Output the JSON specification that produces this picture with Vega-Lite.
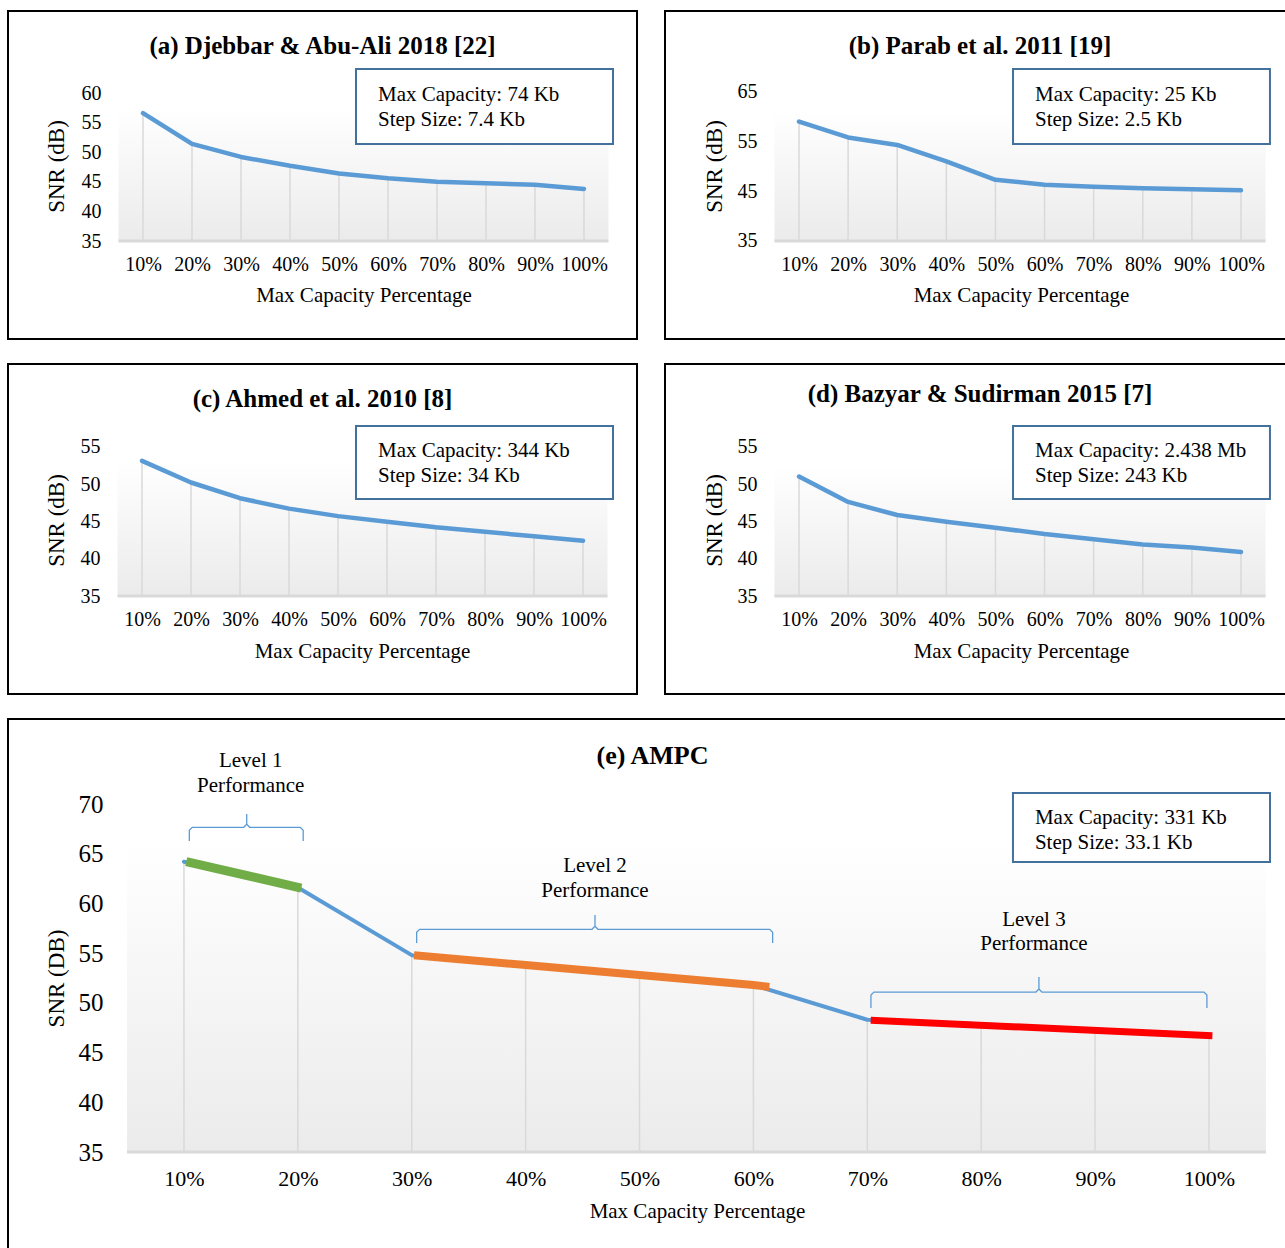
{
  "$schema": "https://vega.github.io/schema/vega-lite/v6.json",
  "background": "white",
  "padding": {"left": 7, "top": 10, "right": 0, "bottom": 0},
  "config": {
    "font": "Liberation Serif",
    "view": {"stroke": "black", "strokeWidth": 2},
    "axis": {"labelFont": "Liberation Serif", "titleFont": "Liberation Serif", "labelColor": "black", "titleColor": "black", "titleFontWeight": "normal", "domain": false, "ticks": false, "tickSize": 0, "grid": false, "labelOverlap": false, "labelFlush": false},
    "title": {"font": "Liberation Serif", "fontWeight": "bold", "color": "black"},
    "text": {"font": "Liberation Serif", "color": "black"}
  },
  "datasets": {
    "djebbar": [{"pct": 10, "snr": 56.6}, {"pct": 20, "snr": 51.4}, {"pct": 30, "snr": 49.2}, {"pct": 40, "snr": 47.7}, {"pct": 50, "snr": 46.4}, {"pct": 60, "snr": 45.6}, {"pct": 70, "snr": 45.0}, {"pct": 80, "snr": 44.75}, {"pct": 90, "snr": 44.5}, {"pct": 100, "snr": 43.8}],
    "parab": [{"pct": 10, "snr": 59.0}, {"pct": 20, "snr": 55.8}, {"pct": 30, "snr": 54.3}, {"pct": 40, "snr": 51.0}, {"pct": 50, "snr": 47.3}, {"pct": 60, "snr": 46.3}, {"pct": 70, "snr": 45.9}, {"pct": 80, "snr": 45.6}, {"pct": 90, "snr": 45.4}, {"pct": 100, "snr": 45.2}],
    "ahmed": [{"pct": 10, "snr": 53.1}, {"pct": 20, "snr": 50.2}, {"pct": 30, "snr": 48.1}, {"pct": 40, "snr": 46.7}, {"pct": 50, "snr": 45.7}, {"pct": 60, "snr": 44.95}, {"pct": 70, "snr": 44.2}, {"pct": 80, "snr": 43.6}, {"pct": 90, "snr": 43.0}, {"pct": 100, "snr": 42.4}],
    "bazyar": [{"pct": 10, "snr": 51.0}, {"pct": 20, "snr": 47.6}, {"pct": 30, "snr": 45.85}, {"pct": 40, "snr": 44.95}, {"pct": 50, "snr": 44.15}, {"pct": 60, "snr": 43.3}, {"pct": 70, "snr": 42.6}, {"pct": 80, "snr": 41.9}, {"pct": 90, "snr": 41.5}, {"pct": 100, "snr": 40.9}],
    "ampc": [{"pct": 10, "snr": 64.2}, {"pct": 20, "snr": 61.6}, {"pct": 30, "snr": 54.8}, {"pct": 40, "snr": 53.8}, {"pct": 50, "snr": 52.8}, {"pct": 60, "snr": 51.8}, {"pct": 70, "snr": 48.3}, {"pct": 80, "snr": 47.85}, {"pct": 90, "snr": 47.3}, {"pct": 100, "snr": 46.8}],
    "levels": [
      {"level": "Level 1", "pct": 10.2, "snr": 64.2}, {"level": "Level 1", "pct": 20.3, "snr": 61.55},
      {"level": "Level 2", "pct": 30.2, "snr": 54.8}, {"level": "Level 2", "pct": 40, "snr": 53.8}, {"level": "Level 2", "pct": 50, "snr": 52.8}, {"level": "Level 2", "pct": 60, "snr": 51.8}, {"level": "Level 2", "pct": 61.4, "snr": 51.6},
      {"level": "Level 3", "pct": 70.3, "snr": 48.25}, {"level": "Level 3", "pct": 100.3, "snr": 46.7}
    ],
    "braces": [
      {"level": "Level 1", "i": 1, "pct": 10.47, "snr": 66.28}, {"level": "Level 1", "i": 2, "pct": 10.47, "snr": 67.36}, {"level": "Level 1", "i": 3, "pct": 10.73, "snr": 67.66}, {"level": "Level 1", "i": 4, "pct": 15.25, "snr": 67.66}, {"level": "Level 1", "i": 5, "pct": 15.51, "snr": 67.96}, {"level": "Level 1", "i": 6, "pct": 15.51, "snr": 69.0}, {"level": "Level 1", "i": 7, "pct": 15.51, "snr": 67.96}, {"level": "Level 1", "i": 8, "pct": 15.77, "snr": 67.66}, {"level": "Level 1", "i": 9, "pct": 20.21, "snr": 67.66}, {"level": "Level 1", "i": 10, "pct": 20.47, "snr": 67.36}, {"level": "Level 1", "i": 11, "pct": 20.47, "snr": 66.28},
      {"level": "Level 2", "i": 1, "pct": 30.43, "snr": 56.02}, {"level": "Level 2", "i": 2, "pct": 30.43, "snr": 57.1}, {"level": "Level 2", "i": 3, "pct": 30.69, "snr": 57.4}, {"level": "Level 2", "i": 4, "pct": 45.83, "snr": 57.4}, {"level": "Level 2", "i": 5, "pct": 46.09, "snr": 57.7}, {"level": "Level 2", "i": 6, "pct": 46.09, "snr": 58.84}, {"level": "Level 2", "i": 7, "pct": 46.09, "snr": 57.7}, {"level": "Level 2", "i": 8, "pct": 46.35, "snr": 57.4}, {"level": "Level 2", "i": 9, "pct": 61.43, "snr": 57.4}, {"level": "Level 2", "i": 10, "pct": 61.69, "snr": 57.1}, {"level": "Level 2", "i": 11, "pct": 61.69, "snr": 56.02},
      {"level": "Level 3", "i": 1, "pct": 70.32, "snr": 49.48}, {"level": "Level 3", "i": 2, "pct": 70.32, "snr": 50.79}, {"level": "Level 3", "i": 3, "pct": 70.58, "snr": 51.09}, {"level": "Level 3", "i": 4, "pct": 84.81, "snr": 51.09}, {"level": "Level 3", "i": 5, "pct": 85.07, "snr": 51.39}, {"level": "Level 3", "i": 6, "pct": 85.07, "snr": 52.6}, {"level": "Level 3", "i": 7, "pct": 85.07, "snr": 51.39}, {"level": "Level 3", "i": 8, "pct": 85.33, "snr": 51.09}, {"level": "Level 3", "i": 9, "pct": 99.56, "snr": 51.09}, {"level": "Level 3", "i": 10, "pct": 99.82, "snr": 50.79}, {"level": "Level 3", "i": 11, "pct": 99.82, "snr": 49.48}
    ],
    "levelLabels": [
      {"label": "Level 1\nPerformance", "pct": 15.86, "snr": 74.29},
      {"label": "Level 2\nPerformance", "pct": 46.09, "snr": 63.74},
      {"label": "Level 3\nPerformance", "pct": 84.63, "snr": 58.34}
    ]
  },
  "spacing": 23,
  "vconcat": [
    {
      "spacing": 26,
      "hconcat": [
        {
          "width": 629, "height": 328,
          "title": {"text": "(a) Djebbar & Abu-Ali 2018 [22]", "fontSize": 25, "anchor": "middle", "frame": "group", "offset": -68, "baseline": "alphabetic"},
          "layer": [
            {"data": {"values": [{}]}, "mark": {"type": "rect", "fill": {"gradient": "linear", "x1": 0, "y1": 0, "x2": 0, "y2": 1, "stops": [{"offset": 0, "color": "#ffffff"}, {"offset": 1, "color": "#ebebeb"}]}},
             "encoding": {"x": {"datum": 5, "type": "quantitative"}, "x2": {"datum": 105}, "y": {"datum": 35, "type": "quantitative"}, "y2": {"datum": 57.5}}},
            {"data": {"values": [{}]}, "mark": {"type": "rule", "color": "#d9d9d9", "strokeWidth": 3},
             "encoding": {"x": {"datum": 5, "type": "quantitative"}, "x2": {"datum": 105}, "y": {"datum": 35, "type": "quantitative"}}},
            {"data": {"name": "djebbar"}, "mark": {"type": "rule", "color": "#d9d9d9", "strokeWidth": 1.5},
             "encoding": {"x": {"field": "pct", "type": "quantitative"}, "y": {"field": "snr", "type": "quantitative"}, "y2": {"datum": 35}}},
            {"data": {"name": "djebbar"}, "mark": {"type": "line", "color": "#5B9BD5", "strokeWidth": 4.5, "strokeJoin": "round", "strokeCap": "round"},
             "encoding": {
               "x": {"field": "pct", "type": "quantitative", "scale": {"domain": [-17.55, 110.82], "nice": false, "zero": false},
                     "axis": {"title": "Max Capacity Percentage", "values": [10, 20, 30, 40, 50, 60, 70, 80, 90, 100], "labelExpr": "datum.value + '%'", "offset": -98, "labelPadding": 13, "labelFontSize": 20, "labelFont": "Liberation Serif", "titleFontSize": 21, "titleX": 355.5, "titleY": 60, "titleBaseline": "alphabetic", "titleAlign": "center"}},
               "y": {"field": "snr", "type": "quantitative", "scale": {"domain": [18.45, 73.85], "nice": false, "zero": false},
                     "axis": {"title": "SNR (dB)", "values": [35, 40, 45, 50, 55, 60], "offset": -99, "labelPadding": 6, "labelFontSize": 20, "labelFont": "Liberation Serif", "titleFontSize": 23, "titleX": -50.5, "titleY": 155, "titleAngle": 270, "titleAlign": "center", "titleBaseline": "middle"}}
             }},
            {"data": {"values": [{}]}, "mark": {"type": "rect", "fill": "white", "stroke": "#41719C", "strokeWidth": 2},
             "encoding": {"x": {"datum": 53.47, "type": "quantitative"}, "x2": {"datum": 105.92}, "y": {"datum": 64.05, "type": "quantitative"}, "y2": {"datum": 51.39}}},
            {"data": {"values": [{}]}, "mark": {"type": "text", "align": "left", "baseline": "middle", "fontSize": 21, "lineHeight": 25, "lineBreak": "\n"},
             "encoding": {"x": {"datum": 57.96, "type": "quantitative"}, "y": {"datum": 59.67, "type": "quantitative"}, "text": {"value": "Max Capacity: 74 Kb\nStep Size: 7.4 Kb"}}}
          ]
        },
        {
          "width": 630, "height": 328,
          "title": {"text": "(b) Parab et al. 2011 [19]", "fontSize": 25, "anchor": "middle", "frame": "group", "offset": -68, "baseline": "alphabetic"},
          "layer": [
            {"data": {"values": [{}]}, "mark": {"type": "rect", "fill": {"gradient": "linear", "x1": 0, "y1": 0, "x2": 0, "y2": 1, "stops": [{"offset": 0, "color": "#ffffff"}, {"offset": 1, "color": "#ebebeb"}]}},
             "encoding": {"x": {"datum": 5, "type": "quantitative"}, "x2": {"datum": 105}, "y": {"datum": 35, "type": "quantitative"}, "y2": {"datum": 61.3}}},
            {"data": {"values": [{}]}, "mark": {"type": "rule", "color": "#d9d9d9", "strokeWidth": 3},
             "encoding": {"x": {"datum": 5, "type": "quantitative"}, "x2": {"datum": 105}, "y": {"datum": 35, "type": "quantitative"}}},
            {"data": {"name": "parab"}, "mark": {"type": "rule", "color": "#d9d9d9", "strokeWidth": 1.5},
             "encoding": {"x": {"field": "pct", "type": "quantitative"}, "y": {"field": "snr", "type": "quantitative"}, "y2": {"datum": 35}}},
            {"data": {"name": "parab"}, "mark": {"type": "line", "color": "#5B9BD5", "strokeWidth": 4.5, "strokeJoin": "round", "strokeCap": "round"},
             "encoding": {
               "x": {"field": "pct", "type": "quantitative", "scale": {"domain": [-17.29, 111.0], "nice": false, "zero": false},
                     "axis": {"title": "Max Capacity Percentage", "values": [10, 20, 30, 40, 50, 60, 70, 80, 90, 100], "labelExpr": "datum.value + '%'", "offset": -98, "labelPadding": 13, "labelFontSize": 20, "labelFont": "Liberation Serif", "titleFontSize": 21, "titleX": 356, "titleY": 60, "titleBaseline": "alphabetic", "titleAlign": "center"}},
               "y": {"field": "snr", "type": "quantitative", "scale": {"domain": [15.31, 81.21], "nice": false, "zero": false},
                     "axis": {"title": "SNR (dB)", "values": [35, 45, 55, 65], "offset": -98, "labelPadding": 6, "labelFontSize": 20, "labelFont": "Liberation Serif", "titleFontSize": 23, "titleX": -49, "titleY": 155, "titleAngle": 270, "titleAlign": "center", "titleBaseline": "middle"}}
             }},
            {"data": {"values": [{}]}, "mark": {"type": "rect", "fill": "white", "stroke": "#41719C", "strokeWidth": 2},
             "encoding": {"x": {"datum": 53.58, "type": "quantitative"}, "x2": {"datum": 105.9}, "y": {"datum": 69.56, "type": "quantitative"}, "y2": {"datum": 54.49}}},
            {"data": {"values": [{}]}, "mark": {"type": "text", "align": "left", "baseline": "middle", "fontSize": 21, "lineHeight": 25, "lineBreak": "\n"},
             "encoding": {"x": {"datum": 58.06, "type": "quantitative"}, "y": {"datum": 64.33, "type": "quantitative"}, "text": {"value": "Max Capacity: 25 Kb\nStep Size: 2.5 Kb"}}}
          ]
        }
      ]
    },
    {
      "spacing": 26,
      "hconcat": [
        {
          "width": 629, "height": 330,
          "title": {"text": "(c) Ahmed et al. 2010 [8]", "fontSize": 25, "anchor": "middle", "frame": "group", "offset": -68, "baseline": "alphabetic"},
          "layer": [
            {"data": {"values": [{}]}, "mark": {"type": "rect", "fill": {"gradient": "linear", "x1": 0, "y1": 0, "x2": 0, "y2": 1, "stops": [{"offset": 0, "color": "#ffffff"}, {"offset": 1, "color": "#ebebeb"}]}},
             "encoding": {"x": {"datum": 5, "type": "quantitative"}, "x2": {"datum": 105}, "y": {"datum": 35, "type": "quantitative"}, "y2": {"datum": 53.2}}},
            {"data": {"values": [{}]}, "mark": {"type": "rule", "color": "#d9d9d9", "strokeWidth": 3},
             "encoding": {"x": {"datum": 5, "type": "quantitative"}, "x2": {"datum": 105}, "y": {"datum": 35, "type": "quantitative"}}},
            {"data": {"name": "ahmed"}, "mark": {"type": "rule", "color": "#d9d9d9", "strokeWidth": 1.5},
             "encoding": {"x": {"field": "pct", "type": "quantitative"}, "y": {"field": "snr", "type": "quantitative"}, "y2": {"datum": 35}}},
            {"data": {"name": "ahmed"}, "mark": {"type": "line", "color": "#5B9BD5", "strokeWidth": 4.5, "strokeJoin": "round", "strokeCap": "round"},
             "encoding": {
               "x": {"field": "pct", "type": "quantitative", "scale": {"domain": [-17.35, 111.02], "nice": false, "zero": false},
                     "axis": {"title": "Max Capacity Percentage", "values": [10, 20, 30, 40, 50, 60, 70, 80, 90, 100], "labelExpr": "datum.value + '%'", "offset": -98, "labelPadding": 13, "labelFontSize": 20, "labelFont": "Liberation Serif", "titleFontSize": 21, "titleX": 354, "titleY": 61, "titleBaseline": "alphabetic", "titleAlign": "center"}},
               "y": {"field": "snr", "type": "quantitative", "scale": {"domain": [21.88, 66.07], "nice": false, "zero": false},
                     "axis": {"title": "SNR (dB)", "values": [35, 40, 45, 50, 55], "offset": -98, "labelPadding": 6, "labelFontSize": 20, "labelFont": "Liberation Serif", "titleFontSize": 23, "titleX": -50, "titleY": 156, "titleAngle": 270, "titleAlign": "center", "titleBaseline": "middle"}}
             }},
            {"data": {"values": [{}]}, "mark": {"type": "rect", "fill": "white", "stroke": "#41719C", "strokeWidth": 2},
             "encoding": {"x": {"datum": 53.67, "type": "quantitative"}, "x2": {"datum": 106.12}, "y": {"datum": 57.77, "type": "quantitative"}, "y2": {"datum": 47.99}}},
            {"data": {"values": [{}]}, "mark": {"type": "text", "align": "left", "baseline": "middle", "fontSize": 21, "lineHeight": 25, "lineBreak": "\n"},
             "encoding": {"x": {"datum": 58.16, "type": "quantitative"}, "y": {"datum": 54.42, "type": "quantitative"}, "text": {"value": "Max Capacity: 344 Kb\nStep Size: 34 Kb"}}}
          ]
        },
        {
          "width": 630, "height": 330,
          "title": {"text": "(d) Bazyar & Sudirman 2015 [7]", "fontSize": 25, "anchor": "middle", "frame": "group", "offset": -63, "baseline": "alphabetic"},
          "layer": [
            {"data": {"values": [{}]}, "mark": {"type": "rect", "fill": {"gradient": "linear", "x1": 0, "y1": 0, "x2": 0, "y2": 1, "stops": [{"offset": 0, "color": "#ffffff"}, {"offset": 1, "color": "#ebebeb"}]}},
             "encoding": {"x": {"datum": 5, "type": "quantitative"}, "x2": {"datum": 105}, "y": {"datum": 35, "type": "quantitative"}, "y2": {"datum": 52.5}}},
            {"data": {"values": [{}]}, "mark": {"type": "rule", "color": "#d9d9d9", "strokeWidth": 3},
             "encoding": {"x": {"datum": 5, "type": "quantitative"}, "x2": {"datum": 105}, "y": {"datum": 35, "type": "quantitative"}}},
            {"data": {"name": "bazyar"}, "mark": {"type": "rule", "color": "#d9d9d9", "strokeWidth": 1.5},
             "encoding": {"x": {"field": "pct", "type": "quantitative"}, "y": {"field": "snr", "type": "quantitative"}, "y2": {"datum": 35}}},
            {"data": {"name": "bazyar"}, "mark": {"type": "line", "color": "#5B9BD5", "strokeWidth": 4.5, "strokeJoin": "round", "strokeCap": "round"},
             "encoding": {
               "x": {"field": "pct", "type": "quantitative", "scale": {"domain": [-17.29, 111.0], "nice": false, "zero": false},
                     "axis": {"title": "Max Capacity Percentage", "values": [10, 20, 30, 40, 50, 60, 70, 80, 90, 100], "labelExpr": "datum.value + '%'", "offset": -98, "labelPadding": 13, "labelFontSize": 20, "labelFont": "Liberation Serif", "titleFontSize": 21, "titleX": 356, "titleY": 61, "titleBaseline": "alphabetic", "titleAlign": "center"}},
               "y": {"field": "snr", "type": "quantitative", "scale": {"domain": [21.88, 66.07], "nice": false, "zero": false},
                     "axis": {"title": "SNR (dB)", "values": [35, 40, 45, 50, 55], "offset": -98, "labelPadding": 6, "labelFontSize": 20, "labelFont": "Liberation Serif", "titleFontSize": 23, "titleX": -49, "titleY": 156, "titleAngle": 270, "titleAlign": "center", "titleBaseline": "middle"}}
             }},
            {"data": {"values": [{}]}, "mark": {"type": "rect", "fill": "white", "stroke": "#41719C", "strokeWidth": 2},
             "encoding": {"x": {"datum": 53.58, "type": "quantitative"}, "x2": {"datum": 105.9}, "y": {"datum": 57.77, "type": "quantitative"}, "y2": {"datum": 47.99}}},
            {"data": {"values": [{}]}, "mark": {"type": "text", "align": "left", "baseline": "middle", "fontSize": 21, "lineHeight": 25, "lineBreak": "\n"},
             "encoding": {"x": {"datum": 58.06, "type": "quantitative"}, "y": {"datum": 54.42, "type": "quantitative"}, "text": {"value": "Max Capacity: 2.438 Mb\nStep Size: 243 Kb"}}}
          ]
        }
      ]
    },
    {
      "width": 1289, "height": 540,
      "title": {"text": "(e) AMPC", "fontSize": 26, "anchor": "middle", "frame": "group", "offset": -71, "baseline": "alphabetic"},
      "layer": [
        {"data": {"values": [{}]}, "mark": {"type": "rect", "fill": {"gradient": "linear", "x1": 0, "y1": 0, "x2": 0, "y2": 1, "stops": [{"offset": 0, "color": "#ffffff"}, {"offset": 1, "color": "#ebebeb"}]}},
         "encoding": {"x": {"datum": 5, "type": "quantitative"}, "x2": {"datum": 105}, "y": {"datum": 35, "type": "quantitative"}, "y2": {"datum": 66.3}}},
        {"data": {"values": [{}]}, "mark": {"type": "rule", "color": "#d9d9d9", "strokeWidth": 3},
         "encoding": {"x": {"datum": 5, "type": "quantitative"}, "x2": {"datum": 105}, "y": {"datum": 35, "type": "quantitative"}}},
        {"data": {"name": "ampc"}, "mark": {"type": "rule", "color": "#d9d9d9", "strokeWidth": 1.5},
         "encoding": {"x": {"field": "pct", "type": "quantitative"}, "y": {"field": "snr", "type": "quantitative"}, "y2": {"datum": 35}}},
        {"data": {"name": "ampc"}, "mark": {"type": "line", "color": "#5B9BD5", "strokeWidth": 4, "strokeJoin": "round", "strokeCap": "round"},
         "encoding": {
           "x": {"field": "pct", "type": "quantitative", "scale": {"domain": [-5.45, 107.73], "nice": false, "zero": false},
                 "axis": {"title": "Max Capacity Percentage", "values": [10, 20, 30, 40, 50, 60, 70, 80, 90, 100], "labelExpr": "datum.value + '%'", "offset": -107, "labelPadding": 16, "labelFontSize": 22, "labelFont": "Liberation Serif", "titleFontSize": 21, "titleX": 689, "titleY": 65, "titleBaseline": "alphabetic", "titleAlign": "center"}},
           "y": {"field": "snr", "type": "quantitative", "scale": {"domain": [24.24, 78.55], "nice": false, "zero": false},
                 "axis": {"title": "SNR (DB)", "values": [35, 40, 45, 50, 55, 60, 65, 70], "offset": -101, "labelPadding": 6, "labelFontSize": 25, "labelFont": "Liberation Serif", "titleFontSize": 23, "titleX": -53, "titleY": 259, "titleAngle": 270, "titleAlign": "center", "titleBaseline": "middle"}}
         }},
        {"data": {"name": "levels"}, "mark": {"type": "line", "strokeCap": "butt"},
         "encoding": {
           "x": {"field": "pct", "type": "quantitative"},
           "y": {"field": "snr", "type": "quantitative"},
           "color": {"field": "level", "type": "nominal", "scale": {"domain": ["Level 1", "Level 2", "Level 3"], "range": ["#70AD47", "#ED7D31", "#FF0000"]}, "legend": null},
           "strokeWidth": {"field": "level", "type": "ordinal", "scale": {"domain": ["Level 1", "Level 2", "Level 3"], "range": [9, 7, 7]}, "legend": null}
         }},
        {"data": {"name": "braces"}, "mark": {"type": "line", "color": "#5B9BD5", "strokeWidth": 1.3},
         "encoding": {
           "x": {"field": "pct", "type": "quantitative"},
           "y": {"field": "snr", "type": "quantitative"},
           "detail": {"field": "level", "type": "nominal"},
           "order": {"field": "i", "type": "quantitative"}
         }},
        {"data": {"name": "levelLabels"}, "mark": {"type": "text", "align": "center", "baseline": "middle", "fontSize": 21, "lineHeight": 24.5, "lineBreak": "\n"},
         "encoding": {"x": {"field": "pct", "type": "quantitative"}, "y": {"field": "snr", "type": "quantitative"}, "text": {"field": "label", "type": "nominal"}}},
        {"data": {"values": [{}]}, "mark": {"type": "rect", "fill": "white", "stroke": "#41719C", "strokeWidth": 2},
         "encoding": {"x": {"datum": 82.79, "type": "quantitative"}, "x2": {"datum": 105.36}, "y": {"datum": 71.11, "type": "quantitative"}, "y2": {"datum": 64.17}}},
        {"data": {"values": [{}]}, "mark": {"type": "text", "align": "left", "baseline": "middle", "fontSize": 21, "lineHeight": 25, "lineBreak": "\n"},
         "encoding": {"x": {"datum": 84.72, "type": "quantitative"}, "y": {"datum": 68.59, "type": "quantitative"}, "text": {"value": "Max Capacity: 331 Kb\nStep Size: 33.1 Kb"}}}
      ]
    }
  ]
}
